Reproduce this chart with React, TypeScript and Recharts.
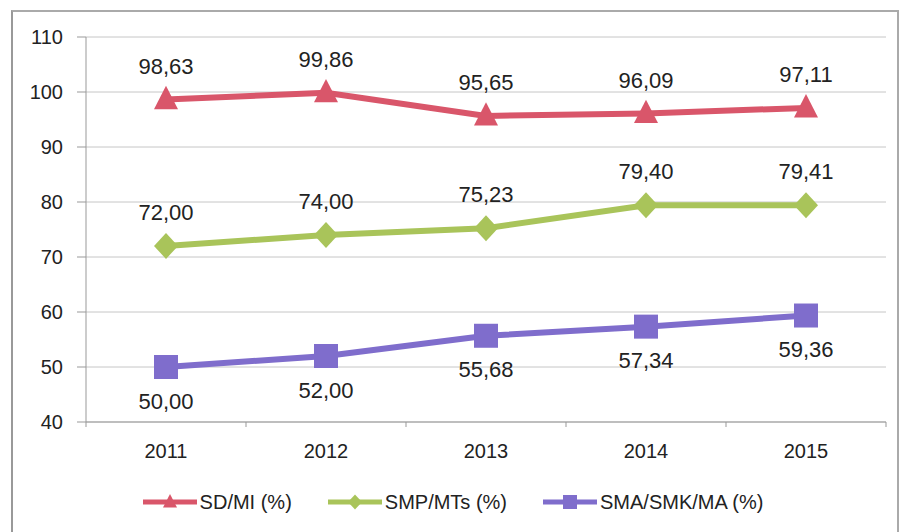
import { LineChart, Line, XAxis, YAxis, CartesianGrid, Legend, LabelList } from 'recharts'

const years = ['2011', '2012', '2013', '2014', '2015']
const sdMi = [98.63, 99.86, 95.65, 96.09, 97.11]
const smpMts = [72.0, 74.0, 75.23, 79.4, 79.41]
const smaSmkMa = [50.0, 52.0, 55.68, 57.34, 59.36]
const yTicks = [40, 50, 60, 70, 80, 90, 100, 110]

const RED = '#D9566A'
const GREEN = '#A9C45A'
const PURPLE = '#7F6DCC'
const FONT = '"Liberation Sans", Arial, sans-serif'

const data = years.map((year, i) => ({
  year,
  sd: sdMi[i],
  smp: smpMts[i],
  sma: smaSmkMa[i],
}))

const fmt = (v: number) => v.toFixed(2).replace('.', ',')

function Marker({ shape, cx, cy, color, size = 12 }: any) {
  if (cx == null || cy == null) return null
  if (shape === 'triangle') {
    const h = size * 1.15
    return (
      <polygon
        points={`${cx},${cy - h} ${cx + size},${cy + size * 0.8} ${cx - size},${cy + size * 0.8}`}
        fill={color}
      />
    )
  }
  if (shape === 'diamond') {
    const h = size * 1.08
    return (
      <polygon
        points={`${cx},${cy - h} ${cx + size},${cy} ${cx},${cy + h} ${cx - size},${cy}`}
        fill={color}
      />
    )
  }
  return <rect x={cx - size} y={cy - size} width={size * 2} height={size * 2} fill={color} />
}

const series = [
  { key: 'sd', name: 'SD/MI (%)', color: RED, shape: 'triangle', pos: 'top' },
  { key: 'smp', name: 'SMP/MTs (%)', color: GREEN, shape: 'diamond', pos: 'top' },
  { key: 'sma', name: 'SMA/SMK/MA (%)', color: PURPLE, shape: 'square', pos: 'bottom' },
]

function XTick(props: any) {
  const { x, y, payload, index, visibleTicksCount, width } = props
  const step = width && visibleTicksCount ? width / visibleTicksCount : 160
  const axisY = y - 22
  return (
    <g>
      <line x1={x - step / 2} x2={x - step / 2} y1={axisY} y2={axisY + 5} stroke="#999" />
      {index === visibleTicksCount - 1 && (
        <line x1={x + step / 2} x2={x + step / 2} y1={axisY} y2={axisY + 5} stroke="#999" />
      )}
      <text x={x} y={y} dy="0.71em" textAnchor="middle" fill="#222" fontSize={20} fontFamily={FONT}>
        {payload.value}
      </text>
    </g>
  )
}

function LegendContent() {
  return (
    <div
      style={{
        display: 'flex',
        justifyContent: 'center',
        alignItems: 'center',
        gap: 36,
        height: 60,
        paddingLeft: 4,
        fontFamily: FONT,
        fontSize: 20,
        color: '#222',
      }}
    >
      {series.map((s) => (
        <div key={s.key} style={{ display: 'flex', alignItems: 'center', gap: 3 }}>
          <svg width={54} height={20}>
            <line x1={0} x2={54} y1={10} y2={10} stroke={s.color} strokeWidth={5} />
            <Marker shape={s.shape} cx={27} cy={10} color={s.color} size={7} />
          </svg>
          <span>{s.name}</span>
        </div>
      ))}
    </div>
  )
}

export default function App() {
  return (
    <div style={{ position: 'relative', width: 899, height: 532, background: '#fff' }}>
      <style>{'body{margin:0}'}</style>
      <div
        style={{
          position: 'absolute',
          left: 11,
          top: 10,
          width: 884,
          height: 530,
          borderLeft: '2px solid #999',
          borderTop: '2px solid #aaa',
          borderRight: '2px solid #aaa',
        }}
      />
      <LineChart
        width={899}
        height={532}
        data={data}
        margin={{ top: 37, right: 13, bottom: 0, left: 16 }}
        style={{ position: 'absolute', left: 0, top: 0 }}
      >
        <CartesianGrid vertical={false} stroke="#c6c6c6" />
        <XAxis
          dataKey="year"
          scale="band"
          height={50}
          axisLine={{ stroke: '#999' }}
          tickLine={false}
          tickSize={8}
          tickMargin={14}
          tick={<XTick />}
          interval={0}
        />
        <YAxis
          width={70}
          domain={[40, 110]}
          ticks={yTicks}
          interval={0}
          axisLine={{ stroke: '#999' }}
          tickLine={{ stroke: '#999' }}
          tickSize={9}
          tickMargin={14}
          tick={{ fill: '#222', fontSize: 20, fontFamily: FONT }}
        />
        <Legend verticalAlign="bottom" height={60} content={<LegendContent />} />
        {series.map((s) => (
          <Line
            key={s.key}
            type="linear"
            dataKey={s.key}
            name={s.name}
            stroke={s.color}
            strokeWidth={6}
            isAnimationActive={false}
            dot={(p: any) => <Marker key={p.index} shape={s.shape} cx={p.cx} cy={p.cy} color={s.color} />}
            activeDot={false}
          >
            <LabelList
              dataKey={s.key}
              position={s.pos as any}
              offset={26}
              formatter={(v: any) => fmt(Number(v))}
              fill="#222"
              fontSize={22}
              fontFamily={FONT}
            />
          </Line>
        ))}
      </LineChart>
    </div>
  )
}
